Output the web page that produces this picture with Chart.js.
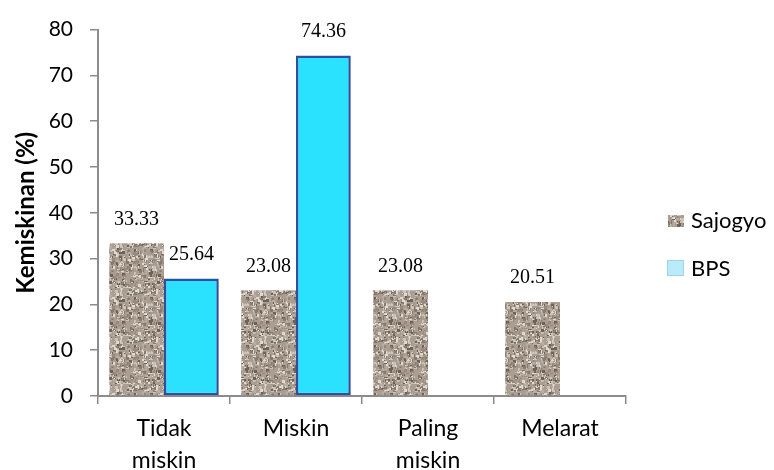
<!DOCTYPE html>
<html>
<head>
<meta charset="utf-8">
<script src="https://cdn.jsdelivr.net/npm/chart.js@4"></script>
<style>
  body { margin: 0; background: #fff; }
  #wrap { width: 774px; height: 470px; }
</style>
</head>
<body>
<div id="wrap"><canvas id="myChart" width="774" height="470"></canvas></div>
<script>
const categories = [['Tidak', 'miskin'], 'Miskin', ['Paling', 'miskin'], 'Melarat']
const sajogyo = [33.33, 23.08, 23.08, 20.51]
const bps = [25.64, 74.36, null, null]
const yTicks = [0, 10, 20, 30, 40, 50, 60, 70, 80]

// granite-like texture for the Sajogyo bars
function makeTexture(){
    const c = document.createElement('canvas')
    c.width = 48
    c.height = 48
    const g = c.getContext('2d')
    g.fillStyle = '#aa9e92'
    g.fillRect(0, 0, 48, 48)
    let seed = 11
    function rnd(){
        seed = (seed * 16807) % 2147483647
        return (seed - 1) / 2147483646
    }
    const tones = ['#6e6257', '#877a6c', '#cbc2b8', '#e0d9d1', '#978a7c', '#b8ada2']
    for(let i = 0; i < 520; i++){
        g.fillStyle = tones[Math.floor(rnd() * tones.length)]
        const x = Math.floor(rnd() * 48)
        const y = Math.floor(rnd() * 48)
        const w = 1 + Math.floor(rnd() * 3)
        const h = 1 + Math.floor(rnd() * 3)
        g.fillRect(x, y, w, h)
    }
    return g.createPattern(c, 'repeat')
}

const ctx = document.getElementById('myChart')
const texture = makeTexture()

const valueLabels = {
    id: 'valueLabels',
    afterDatasetsDraw(chart){
        const c = chart.ctx
        c.save()
        c.font = '20px "Liberation Serif"'
        c.fillStyle = '#000'
        c.textAlign = 'center'
        c.textBaseline = 'middle'
        chart.data.datasets.forEach((ds, i) => {
            chart.getDatasetMeta(i).data.forEach((bar, j) => {
                if (ds.data[j] == null) return
                c.fillText(ds.data[j].toFixed(2), bar.x, bar.y - 24)
            })
        })
        c.restore()
    }
}

const sideLegend = {
    id: 'sideLegend',
    afterDraw(chart){
        const c = chart.ctx
        c.save()
        c.font = '22px Lato'
        c.textBaseline = 'middle'
        // Sajogyo
        c.fillStyle = texture
        c.fillRect(668, 215, 16, 12)
        c.fillStyle = '#000'
        c.fillText('Sajogyo', 691, 221)
        // BPS
        c.fillStyle = '#b8ecfb'
        c.fillRect(667, 260, 17, 16)
        c.strokeStyle = '#9fd3e0'
        c.lineWidth = 1
        c.strokeRect(667.5, 260.5, 16, 15)
        c.fillStyle = '#000'
        c.fillText('BPS', 691, 269)
        c.restore()
    }
}

new Chart(ctx, {
    type: 'bar',
    data: {
        labels: categories,
        datasets: [{
            label: 'Sajogyo',
            data: sajogyo,
            backgroundColor: texture,
            borderWidth: 0
        }, {
            label: 'BPS',
            data: bps,
            backgroundColor: '#2ae2fd',
            borderColor: '#2d4f9e',
            borderWidth: 2.5,
            borderSkipped: false
        }]
    },
    options: {
        responsive: false,
        animation: false,
        layout: {
            padding: { left: 0, right: 148, top: 25, bottom: 0 }
        },
        datasets: {
            bar: { categoryPercentage: 0.83, barPercentage: 1 }
        },
        plugins: {
            legend: { display: false },
            tooltip: { enabled: false }
        },
        scales: {
            x: {
                afterFit(scale){ scale.height = 74 },
                grid: {
                    offset: true,
                    drawOnChartArea: false,
                    tickLength: 8,
                    color: '#8c8c8c',
                    lineWidth: 1.5
                },
                border: { color: '#8c8c8c', width: 2 },
                ticks: {
                    color: '#000',
                    font: { family: 'Lato', size: 23, lineHeight: 1.4 },
                    padding: 8,
                    maxRotation: 0,
                    autoSkip: false
                }
            },
            y: {
                min: 0,
                max: 80,
                afterFit(scale){ scale.width = 98 },
                afterBuildTicks(scale){
                    scale.ticks = yTicks.map(v => ({ value: v }))
                },
                grid: {
                    drawOnChartArea: false,
                    tickLength: 8,
                    color: '#8c8c8c',
                    lineWidth: 1.5
                },
                border: { color: '#8c8c8c', width: 2 },
                ticks: {
                    color: '#000',
                    font: { family: 'Lato', size: 21 },
                    padding: 17
                },
                title: {
                    display: true,
                    text: 'Kemiskinan (%)',
                    color: '#000',
                    font: { family: 'Lato', size: 24, weight: 'bold' },
                    padding: { top: 12, bottom: 0 }
                }
            }
        }
    },
    plugins: [valueLabels, sideLegend]
})
</script>
</body>
</html>
